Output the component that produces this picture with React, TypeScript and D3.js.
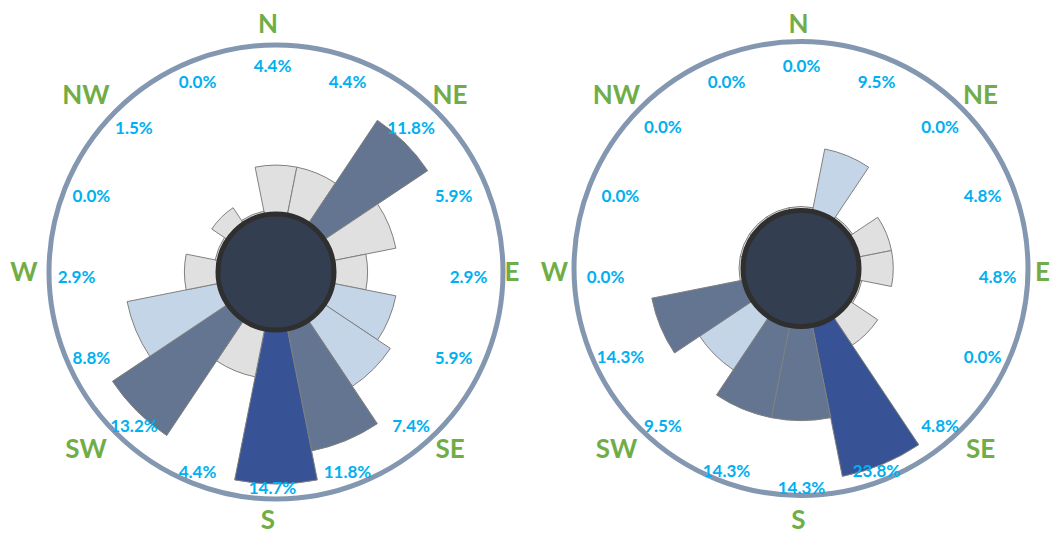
import * as d3 from "d3";

// 16 compass sectors, clockwise from north
const directions = ["N", "NNE", "NE", "ENE", "E", "ESE", "SE", "SSE", "S", "SSW", "SW", "WSW", "W", "WNW", "NW", "NNW"];
const compassLabels = ["N", "NE", "E", "SE", "S", "SW", "W", "NW"];

const leftValues = [4.4, 4.4, 11.8, 5.9, 2.9, 5.9, 7.4, 11.8, 14.7, 4.4, 13.2, 8.8, 2.9, 0.0, 1.5, 0.0];
const leftClass = ["low", "low", "high", "low", "low", "mid", "mid", "high", "top", "low", "high", "mid", "low", "low", "low", "low"];

const rightValues = [0.0, 9.5, 0.0, 4.8, 4.8, 0.0, 4.8, 23.8, 14.3, 14.3, 9.5, 14.3, 0.0, 0.0, 0.0, 0.0];
const rightClass = ["low", "mid", "low", "low", "low", "low", "low", "top", "high", "high", "mid", "high", "low", "low", "low", "low"];

const fillFor: any = { low: "#e0e0e0", mid: "#c3d5e7", high: "#637590", top: "#385395" };

const W = 1051;
const H = 535;
const font = "Lato, 'Open Sans', sans-serif";

function Rose(props: any) {
    const { values, classes, cx, cy, labelCx, labelCy, compCx, compCy } = props;

    const angle = d3.scaleBand()
        .domain(directions)
        .range([-Math.PI / 16, 2 * Math.PI - Math.PI / 16])
        .padding(0);

    const radius = d3.scaleLinear()
        .domain([0, d3.max(values as number[]) as number])
        .range([62, 212]);

    const arc = d3.arc<any>()
        .innerRadius(0)
        .outerRadius((d: any) => radius(d.v))
        .startAngle((d: any) => angle(d.dir) as number)
        .endAngle((d: any) => (angle(d.dir) as number) + angle.bandwidth());

    const data = directions.map((dir, i) => ({ dir, v: values[i], c: classes[i] }));

    return (
        <g>
            <circle cx={cx} cy={cy} r={227} fill="none" stroke="#8497b0" strokeWidth={5} />
            <g transform={`translate(${cx},${cy})`}>
                {data.map((d) => (
                    <path key={d.dir} d={arc(d) as string} fill={fillFor[d.c]} stroke="#808080" strokeWidth={1} />
                ))}
                <circle r={58} fill="#333f50" stroke="#2f2f2f" strokeWidth={5} />
            </g>
            {data.map((d) => {
                const a = (angle(d.dir) as number) + angle.bandwidth() / 2;
                const x = labelCx + 196 * Math.sin(a);
                const y = labelCy - 211 * Math.cos(a);
                return (
                    <text key={"l" + d.dir} x={x} y={y} textAnchor="middle" dominantBaseline="central"
                        fill="#00b0f0" fontFamily={font} fontWeight="bold" fontSize={17}>
                        {d3.format(".1f")(d.v)}%
                    </text>
                );
            })}
            {compassLabels.map((c) => {
                const a = (angle(c) as number) + angle.bandwidth() / 2;
                const diag = c.length === 2;
                const x = compCx + 244 * (diag ? 1.055 : 1) * Math.sin(a);
                const y = compCy - (diag ? 251 : 248) * Math.cos(a);
                return (
                    <text key={"c" + c} x={x} y={y} textAnchor="middle" dominantBaseline="central"
                        fill="#70ad47" fontFamily={font} fontWeight="bold" fontSize={26}>
                        {c}
                    </text>
                );
            })}
        </g>
    );
}

export default function App() {
    return (
        <div style={{ position: "absolute", left: 0, top: 0, width: W, height: H, background: "#fff" }}>
            <svg width={W} height={H} viewBox={`0 0 ${W} ${H}`}>
                <Rose values={leftValues} classes={leftClass} cx={276} cy={272}
                    labelCx={272.5} labelCy={276.5} compCx={268} compCy={271} />
                <Rose values={rightValues} classes={rightClass} cx={801} cy={268.5}
                    labelCx={801.5} labelCy={276} compCx={798.5} compCy={271} />
            </svg>
        </div>
    );
}
